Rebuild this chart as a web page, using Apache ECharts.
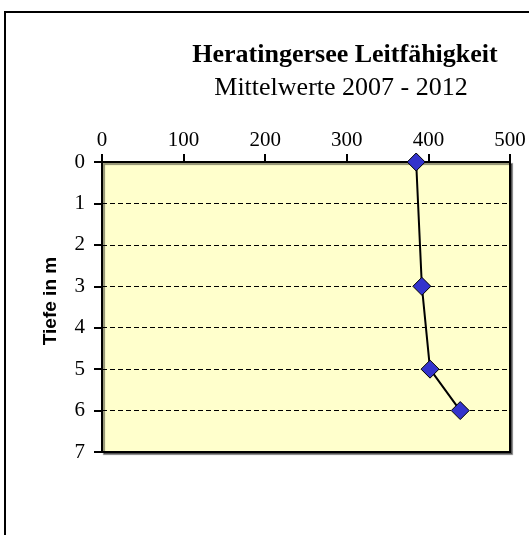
<!DOCTYPE html>
<html>
<head>
<meta charset="utf-8">
<script src="https://cdn.jsdelivr.net/npm/echarts@6/dist/echarts.min.js"></script>
<style>
html,body{margin:0;padding:0;background:#fff;}
#chart{width:529px;height:535px;}
</style>
</head>
<body>
<div id="chart"></div>
<script>
var titleText = 'Heratingersee Leitfähigkeit';
var subtitleText = 'Mittelwerte 2007 - 2012';
var yAxisName = 'Tiefe in m';
var depths = [0, 3, 5, 6];
var leitfaehigkeit = [385, 392, 402, 439];
var xTicks = [0, 100, 200, 300, 400, 500];
var yTicks = [0, 1, 2, 3, 4, 5, 6, 7];

var data = depths.map(function (d, i) { return [leitfaehigkeit[i], d]; });
var serif = '"Liberation Serif", "DejaVu Serif", serif';
var sans = '"Liberation Sans", Arial, sans-serif';

var chart = echarts.init(document.getElementById('chart'), null, {renderer: 'canvas'});
chart.setOption({
  animation: false,
  backgroundColor: '#ffffff',
  graphic: [{
    type: 'rect',
    shape: {x: 5, y: 12, width: 600, height: 600},
    style: {fill: 'none', stroke: '#000', lineWidth: 2},
    silent: true
  }],
  title: [{
    text: titleText,
    left: 340, top: 37, textAlign: 'center',
    textStyle: {fontFamily: serif, fontWeight: 'bold', fontSize: 26, color: '#000'}
  }, {
    text: subtitleText,
    left: 336, top: 70, textAlign: 'center',
    textStyle: {fontFamily: serif, fontWeight: 'normal', fontSize: 26, color: '#000'}
  }],
  grid: {
    left: 102, top: 162, right: 19, bottom: 83,
    show: true, backgroundColor: '#FFFFCC', borderColor: '#000', borderWidth: 2,
    shadowColor: 'rgba(0,0,0,0.45)', shadowOffsetX: 2, shadowOffsetY: 2, shadowBlur: 1
  },
  xAxis: {
    type: 'value', position: 'top', min: xTicks[0], max: xTicks[xTicks.length - 1], interval: 100,
    axisLine: {show: true, lineStyle: {color: '#000', width: 2}},
    axisTick: {show: true, inside: false, length: 8, lineStyle: {color: '#000', width: 2}},
    axisLabel: {fontFamily: serif, fontSize: 21, color: '#000', margin: 11},
    splitLine: {show: false}
  },
  yAxis: {
    type: 'value', inverse: true, min: yTicks[0], max: yTicks[yTicks.length - 1], interval: 1,
    name: yAxisName, nameLocation: 'middle', nameGap: 42, nameRotate: 90,
    nameTextStyle: {fontFamily: sans, fontWeight: 'bold', fontSize: 19, color: '#000', padding: [0, 0, 0, 12]},
    axisLine: {show: true, lineStyle: {color: '#000', width: 2}},
    axisTick: {show: true, inside: false, length: 8, lineStyle: {color: '#000', width: 2}},
    axisLabel: {fontFamily: serif, fontSize: 21, color: '#000', margin: 17},
    splitLine: {show: true, lineStyle: {color: '#000', width: 1, type: [5, 3]}}
  },
  series: [{
    type: 'line',
    data: data,
    symbol: 'diamond',
    symbolSize: 18,
    lineStyle: {color: '#000', width: 2},
    itemStyle: {color: '#3333CC', borderColor: '#000', borderWidth: 1}
  }]
});
</script>
</body>
</html>
